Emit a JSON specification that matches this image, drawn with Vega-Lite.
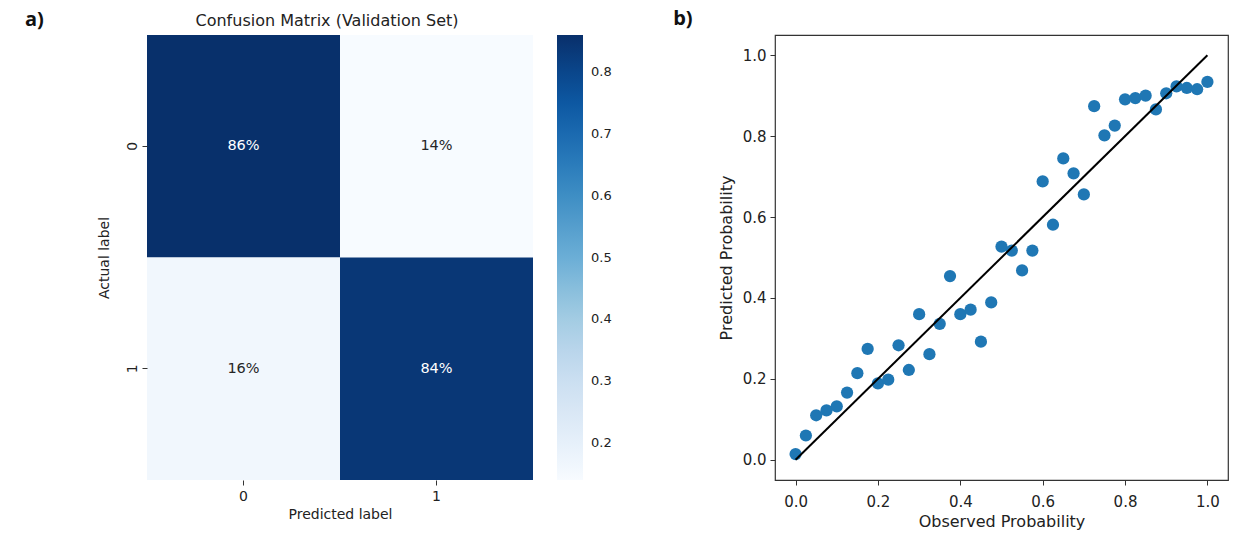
{
  "$schema": "https://vega.github.io/schema/vega-lite/v6.json",
  "padding": {"left": 25, "top": 8, "right": 10, "bottom": 5},
  "background": "white",
  "title": {"text": "a)", "anchor": "start", "frame": "bounds", "font": "Open Sans", "fontSize": 20, "fontWeight": "bold", "color": "#111", "offset": -22, "dx": -72},
  "datasets": {
    "cm": [
      {"actual": "0", "predicted": "0", "value": 0.86, "label": "86%"},
      {"actual": "0", "predicted": "1", "value": 0.14, "label": "14%"},
      {"actual": "1", "predicted": "0", "value": 0.16, "label": "16%"},
      {"actual": "1", "predicted": "1", "value": 0.84, "label": "84%"}
    ],
    "calib": [
      {"observed": 0.0, "predicted": 0.014},
      {"observed": 0.025, "predicted": 0.06},
      {"observed": 0.05, "predicted": 0.11},
      {"observed": 0.075, "predicted": 0.122},
      {"observed": 0.1, "predicted": 0.132},
      {"observed": 0.125, "predicted": 0.166},
      {"observed": 0.15, "predicted": 0.214},
      {"observed": 0.175, "predicted": 0.274},
      {"observed": 0.2, "predicted": 0.189},
      {"observed": 0.225, "predicted": 0.198},
      {"observed": 0.25, "predicted": 0.283},
      {"observed": 0.275, "predicted": 0.222},
      {"observed": 0.3, "predicted": 0.36},
      {"observed": 0.325, "predicted": 0.261},
      {"observed": 0.35, "predicted": 0.336},
      {"observed": 0.375, "predicted": 0.454},
      {"observed": 0.4, "predicted": 0.36},
      {"observed": 0.425, "predicted": 0.371},
      {"observed": 0.45, "predicted": 0.292},
      {"observed": 0.475, "predicted": 0.389},
      {"observed": 0.5, "predicted": 0.527},
      {"observed": 0.525, "predicted": 0.517},
      {"observed": 0.55, "predicted": 0.468},
      {"observed": 0.575, "predicted": 0.517},
      {"observed": 0.6, "predicted": 0.688},
      {"observed": 0.625, "predicted": 0.581},
      {"observed": 0.65, "predicted": 0.745},
      {"observed": 0.675, "predicted": 0.708},
      {"observed": 0.7, "predicted": 0.656},
      {"observed": 0.725, "predicted": 0.874},
      {"observed": 0.75, "predicted": 0.802},
      {"observed": 0.775, "predicted": 0.826},
      {"observed": 0.8, "predicted": 0.891},
      {"observed": 0.825, "predicted": 0.894},
      {"observed": 0.85, "predicted": 0.9},
      {"observed": 0.875, "predicted": 0.866},
      {"observed": 0.9, "predicted": 0.906},
      {"observed": 0.925, "predicted": 0.923},
      {"observed": 0.95, "predicted": 0.919},
      {"observed": 0.975, "predicted": 0.916},
      {"observed": 1.0, "predicted": 0.934}
    ],
    "diag": [
      {"observed": 0.0, "predicted": 0.0},
      {"observed": 1.0, "predicted": 1.0}
    ]
  },
  "resolve": {"legend": {"color": "independent"}, "scale": {"color": "independent"}},
  "hconcat": [
    {
      "width": 386,
      "height": 445,
      "title": {"text": "Confusion Matrix (Validation Set)", "font": "DejaVu Sans", "fontSize": 16, "fontWeight": "normal", "color": "#222", "offset": 6, "dx": -13},
      "data": {"name": "cm"},
      "view": {"stroke": null},
      "encoding": {
        "x": {"field": "predicted", "type": "nominal", "sort": ["0", "1"],
              "scale": {"paddingInner": 0, "paddingOuter": 0},
              "axis": {"title": "Predicted label", "labelAngle": 0, "domain": false, "tickSize": 5, "tickColor": "#333",
                       "labelFont": "DejaVu Sans", "labelFontSize": 14, "labelColor": "#222", "labelPadding": 4,
                       "titleFont": "DejaVu Sans", "titleFontSize": 14, "titleFontWeight": "normal", "titleColor": "#222", "titlePadding": 4}},
        "y": {"field": "actual", "type": "nominal", "sort": ["0", "1"],
              "scale": {"paddingInner": 0, "paddingOuter": 0},
              "axis": {"title": "Actual label", "labelAngle": -90, "labelAlign": "center", "labelBaseline": "bottom", "domain": false, "tickSize": 5, "tickColor": "#333",
                       "labelFont": "DejaVu Sans", "labelFontSize": 14, "labelColor": "#222", "labelPadding": 3,
                       "titleFont": "DejaVu Sans", "titleFontSize": 14, "titleFontWeight": "normal", "titleColor": "#222", "titlePadding": 14}}
      },
      "layer": [
        {
          "mark": {"type": "rect"},
          "encoding": {
            "color": {"field": "value", "type": "quantitative",
                      "scale": {"domain": [0.14, 0.23, 0.32, 0.41, 0.5, 0.59, 0.68, 0.77, 0.86],
                                "range": ["#f7fbff", "#deebf7", "#c6dbef", "#9ecae1", "#6baed6", "#4292c6", "#2171b5", "#08519c", "#08306b"]},
                      "legend": {"title": null, "values": [0.2, 0.3, 0.4, 0.5, 0.6, 0.7, 0.8], "format": ".1f",
                                 "gradientLength": 445, "gradientThickness": 26, "gradientStrokeWidth": 0, "offset": 24,
                                 "labelFont": "DejaVu Sans", "labelFontSize": 13, "labelColor": "#222", "labelOffset": 8}}
          }
        },
        {
          "mark": {"type": "text", "font": "DejaVu Sans", "fontSize": 14.5},
          "encoding": {
            "text": {"field": "label", "type": "nominal"},
            "color": {"condition": {"test": "datum.value > 0.5", "value": "#ffffff"}, "value": "#262626"}
          }
        }
      ]
    },
    {
      "width": 453,
      "height": 445,
      "title": {"text": "b)", "anchor": "start", "frame": "bounds", "font": "Open Sans", "fontSize": 20, "fontWeight": "bold", "color": "#111", "offset": 6, "dx": -45},
      "view": {"stroke": "#333", "strokeWidth": 1.2},
      "encoding": {
        "x": {"field": "observed", "type": "quantitative",
              "scale": {"domain": [-0.05, 1.05], "nice": false, "zero": false},
              "axis": {"title": "Observed Probability", "values": [0, 0.2, 0.4, 0.6, 0.8, 1.0], "format": ".1f", "grid": false, "domain": false,
                       "tickSize": 5, "tickColor": "#333", "labelFont": "DejaVu Sans", "labelFontSize": 15, "labelColor": "#222", "labelPadding": 9,
                       "titleFont": "DejaVu Sans", "titleFontSize": 16, "titleFontWeight": "normal", "titleColor": "#222", "titlePadding": 4}},
        "y": {"field": "predicted", "type": "quantitative",
              "scale": {"domain": [-0.05, 1.05], "nice": false, "zero": false},
              "axis": {"title": "Predicted Probability", "values": [0, 0.2, 0.4, 0.6, 0.8, 1.0], "format": ".1f", "grid": false, "domain": false,
                       "tickSize": 5, "tickColor": "#333", "labelFont": "DejaVu Sans", "labelFontSize": 15, "labelColor": "#222", "labelPadding": 4,
                       "titleFont": "DejaVu Sans", "titleFontSize": 16, "titleFontWeight": "normal", "titleColor": "#222", "titlePadding": 8}}
      },
      "layer": [
        {
          "data": {"name": "calib"},
          "mark": {"type": "circle", "size": 150, "color": "#1f77b4", "opacity": 1}
        },
        {
          "data": {"name": "diag"},
          "mark": {"type": "line", "color": "#000000", "strokeWidth": 2}
        }
      ]
    }
  ],
  "spacing": 60
}
